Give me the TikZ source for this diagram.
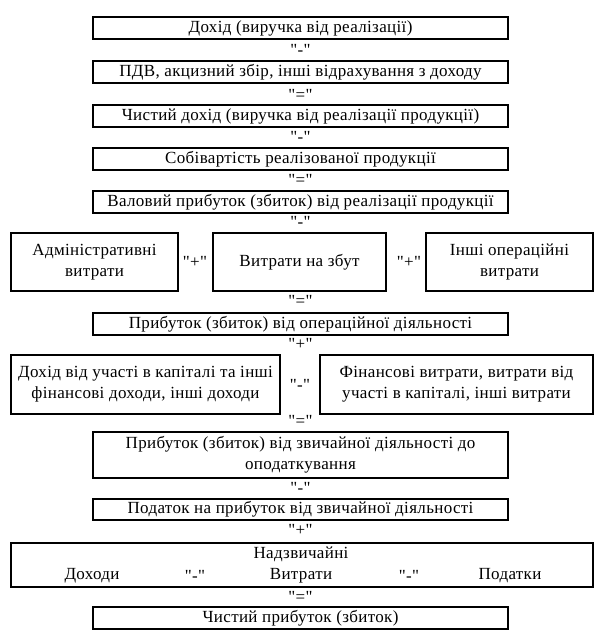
\documentclass[tikz,border=0pt]{standalone}
\usepackage{fontspec}
\setmainfont{Liberation Serif}[Ligatures=TeXOff,LetterSpace=2]
\begin{document}
\begin{tikzpicture}[x=1pt,y=-1pt,
  box/.style={draw=black,line width=1.4pt,inner sep=0pt,align=center,font=\fontsize{17}{21}\selectfont},
  wide/.style={box,minimum width=415pt},
  sign/.style={inner sep=0pt,font=\fontsize{17}{21}\selectfont},
  txt/.style={inner sep=0pt,font=\fontsize{17}{21}\selectfont}]
\useasboundingbox (0,0) rectangle (603,637);
\node[wide,minimum height=22pt] (b1) at (300.5,28) {Дохід (виручка від реалізації)};
\node[sign] (s1) at (300.5,50) {"-"};
\node[wide,minimum height=22pt] (b2) at (300.5,72) {ПДВ, акцизний збір, інші відрахування з доходу};
\node[sign] (s2) at (300.5,95) {"="};
\node[wide,minimum height=22pt] (b3) at (300.5,116) {Чистий дохід (виручка від реалізації продукції)};
\node[sign] (s3) at (300.5,137) {"-"};
\node[wide,minimum height=22pt] (b4) at (300.5,159) {Собівартість реалізованої продукції};
\node[sign] (s4) at (300.5,180) {"="};
\node[wide,minimum height=22pt] (b5) at (300.5,202) {Валовий прибуток (збиток) від реалізації продукції};
\node[sign] (s5) at (300.5,222) {"-"};
\node[box,minimum width=167pt,minimum height=58pt] (r1) at (94.5,262) {Адміністративні\\витрати};
\node[sign] (p1) at (195,262) {"+"};
\node[box,minimum width=173pt,minimum height=58pt] (r2) at (299.5,262) {Витрати на збут};
\node[sign] (p2) at (409,262) {"+"};
\node[box,minimum width=167pt,minimum height=58pt] (r3) at (509.5,262) {Інші операційні\\витрати};
\node[sign] (s6) at (300.5,301) {"="};
\node[wide,minimum height=22pt] (b6) at (300.5,324) {Прибуток (збиток) від операційної діяльності};
\node[sign] (s7) at (300.5,344) {"+"};
\node[box,minimum width=269pt,minimum height=59pt] (q1) at (145.5,384.5) {Дохід від участі в капіталі та інші\\фінансові доходи, інші доходи};
\node[sign] (m1) at (300,384.5) {"-"};
\node[box,minimum width=273pt,minimum height=59pt] (q2) at (456.5,384.5) {Фінансові витрати, витрати від\\участі в капіталі, інші витрати};
\node[sign] (s8) at (300.5,421) {"="};
\node[wide,minimum height=46pt] (b7) at (300.5,455) {Прибуток (збиток) від звичайної діяльності до\\оподаткування};
\node[sign] (s9) at (300.5,488) {"-"};
\node[wide,minimum height=21pt] (b8) at (300.5,509.5) {Податок на прибуток від звичайної діяльності};
\node[sign] (s10) at (300.5,530) {"+"};
\node[box,minimum width=582pt,minimum height=44pt] (b9) at (302,565) {};
\node[txt] (t0) at (301,554) {Надзвичайні};
\node[txt] (t1) at (92,576) {Доходи};
\node[txt] (t2) at (195,576) {"-"};
\node[txt] (t3) at (301,576) {Витрати};
\node[txt] (t4) at (409,576) {"-"};
\node[txt] (t5) at (510,576) {Податки};
\node[sign] (s11) at (300.5,597) {"="};
\node[wide,minimum height=22pt] (b10) at (300.5,618) {Чистий прибуток (збиток)};
\end{tikzpicture}
\end{document}
